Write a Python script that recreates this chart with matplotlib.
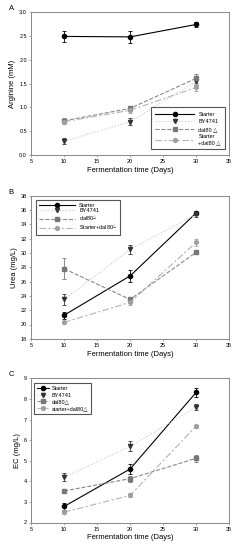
import numpy as np
import matplotlib.pyplot as plt

plt.rcParams['font.family'] = ['Liberation Sans', 'DejaVu Sans']

days = [10, 20, 30]
names = ['Starter', 'BY4741', 'dal80', 'Starter+dal80']

# Panel A - arginine (mM)
arg_mean = {
    'Starter':       [2.49, 2.48, 2.74],
    'BY4741':        [0.29, 0.70, 1.55],
    'dal80':         [0.72, 0.98, 1.61],
    'Starter+dal80': [0.70, 0.94, 1.42],
}
arg_err = {
    'Starter':       [0.11, 0.13, 0.05],
    'BY4741':        [0.06, 0.07, 0.08],
    'dal80':         [0.05, 0.06, 0.10],
    'Starter+dal80': [0.04, 0.05, 0.08],
}

# Panel B - urea (mg/L)
urea_mean = {
    'Starter':       [21.3, 26.8, 35.6],
    'BY4741':        [23.5, 30.5, 35.4],
    'dal80':         [27.8, 23.5, 30.1],
    'Starter+dal80': [20.3, 23.1, 31.5],
}
urea_err = {
    'Starter':       [0.5, 0.8, 0.3],
    'BY4741':        [0.8, 0.6, 0.3],
    'dal80':         [1.5, 0.3, 0.2],
    'Starter+dal80': [0.2, 0.4, 0.5],
}

# Panel C - EC (mg/L)
ec_mean = {
    'Starter':       [2.78, 4.60, 8.32],
    'BY4741':        [4.20, 5.70, 7.60],
    'dal80':         [3.53, 4.13, 5.12],
    'Starter+dal80': [2.50, 3.32, 6.68],
}
ec_err = {
    'Starter':       [0.15, 0.25, 0.20],
    'BY4741':        [0.20, 0.25, 0.15],
    'dal80':         [0.05, 0.15, 0.18],
    'Starter+dal80': [0.08, 0.10, 0.08],
}

styles = {
    'Starter':       dict(color='black', ls='-', marker='o', mfc='black', mec='black', ms=3),
    'BY4741':        dict(color='#c8c8c8', ls=':', marker='v', mfc='#333333', mec='#333333', ms=3),
    'dal80':         dict(color='#8a8a8a', ls='--', marker='s', mfc='#777777', mec='#777777', ms=2.8),
    'Starter+dal80': dict(color='#b4b4b4', ls=(0, (6, 2, 2, 2)), marker='h', mfc='#a0a0a0', mec='#a0a0a0', ms=3),
}

fig = plt.figure(figsize=(2.43, 5.5), dpi=100)
rects = [
    [0.128, 0.718, 0.815, 0.260],
    [0.128, 0.384, 0.815, 0.260],
    [0.128, 0.050, 0.815, 0.262],
]
panels = [
    ('A', arg_mean, arg_err, 'Arginine (mM)', (0, 3), np.arange(0, 3.01, 0.5), '%.1f',
     ['Starter', 'BY4741', 'dal80 △', 'Starter\n+dal80 △']),
    ('B', urea_mean, urea_err, 'Urea (mg/L)', (18, 38), np.arange(18, 38.1, 2), '%d',
     ['Starter', 'BY4741', 'dal80$^{△}$', 'Starter+dal80$^{△}$']),
    ('C', ec_mean, ec_err, 'EC (mg/L)', (2, 9), np.arange(2, 9.1, 1), '%d',
     ['Starter', 'BY4741', 'dal80△', 'starter+dal80△']),
]

for rect, (tag, means, errs, ylab, ylim, yticks, fmt, labels) in zip(rects, panels):
    ax = fig.add_axes(rect)
    handles = []
    for n in names:
        st = styles[n]
        ax.errorbar(days, means[n], yerr=errs[n], fmt='none', ecolor=st['mec'],
                    elinewidth=0.6, capsize=1.5, capthick=0.6, zorder=2)
        h, = ax.plot(days, means[n], color=st['color'], ls=st['ls'], lw=0.8,
                     marker=st['marker'], mfc=st['mfc'], mec=st['mec'],
                     ms=st['ms'], zorder=3)
        handles.append(h)
    ax.set_xlim(5, 35)
    ax.set_xticks(np.arange(5, 36, 5))
    ax.set_ylim(*ylim)
    ax.set_yticks(yticks)
    ax.set_yticklabels([fmt % v for v in yticks])
    for s in ax.spines.values():
        s.set_color('#888888')
        s.set_linewidth(0.7)
    ax.tick_params(labelsize=4, length=1.5, width=0.5, color='#888888', pad=1.5)
    ax.set_xlabel('Fermentation time (Days)', fontsize=5.5, labelpad=2)
    ax.set_ylabel(ylab, fontsize=5.5, labelpad=2)
    ax.text(-0.1, 1.0, tag, transform=ax.transAxes, fontsize=5.5, ha='center', va='bottom')

    if tag == 'A':
        leg = ax.legend(handles, labels, loc='lower right', bbox_to_anchor=(0.995, 0.02),
                        fontsize=4, handlelength=7, labelspacing=0.45, borderpad=0.8,
                        fancybox=False, edgecolor='#555555', framealpha=1)
    elif tag == 'B':
        leg = ax.legend(handles, labels, loc='upper left', bbox_to_anchor=(0.01, 0.99),
                        fontsize=4, handlelength=6.5, labelspacing=0.1, borderpad=0.5,
                        fancybox=False, edgecolor='#555555', framealpha=1)
    else:
        leg = ax.legend(handles, labels, loc='upper left', bbox_to_anchor=(0.0, 0.99),
                        fontsize=4, handlelength=2.2, labelspacing=0.3, borderpad=0.6,
                        handletextpad=0.4, fancybox=False, edgecolor='#555555', framealpha=1)
    leg.get_frame().set_linewidth(0.8)

fig.savefig('out.png', dpi=100)
